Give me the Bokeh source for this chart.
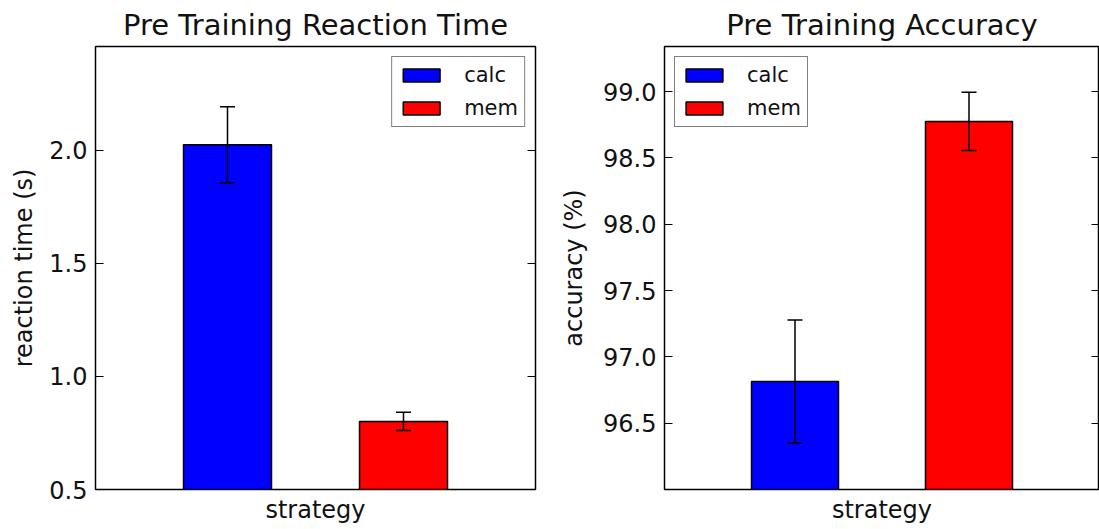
from bokeh.plotting import figure
from bokeh.layouts import row
from bokeh.models import (ColumnDataSource, Whisker, Range1d, FixedTicker, LinearAxis,
                          Legend, LegendItem, TeeHead, PrintfTickFormatter,
                          CustomJSTickFormatter)
from bokeh.embed import file_html
from bokeh.resources import INLINE

# ---- data ----
strategies = ["calc", "mem"]
bar_colors = ["#0000ff", "#ff0000"]
positions = [0.3, 0.7]

rt_mean = [2.024, 0.801]
rt_err = [0.168, 0.040]
rt_ticks = [0.5, 1.0, 1.5, 2.0]
rt_limits = (0.5, 2.458)

acc_mean = [96.814, 98.775]
acc_err = [0.464, 0.220]
acc_ticks = [96.5, 97.0, 97.5, 98.0, 98.5, 99.0]
acc_limits = (96.0, 99.34)

FONT = "DejaVu Sans"


def make_panel(title, ylabel, means, errs, limits, ticks, width, border_left,
               border_right, legend_loc, ylabel_standoff):
    src = ColumnDataSource(dict(
        x=positions, top=means, color=bar_colors, label=strategies,
        upper=[m + e for m, e in zip(means, errs)],
        lower=[m - e for m, e in zip(means, errs)],
    ))
    p = figure(width=width, height=529, x_range=Range1d(0, 1),
               y_range=Range1d(*limits), output_backend="svg",
               toolbar_location=None, min_border_left=border_left,
               min_border_right=border_right, min_border_top=44,
               min_border_bottom=40, title=title)
    p.background_fill_color = "white"
    p.border_fill_color = "white"
    p.outline_line_color = "black"
    p.outline_line_width = 1.5
    p.xgrid.visible = False
    p.ygrid.visible = False

    p.title.text_font = FONT
    p.title.text_font_size = "29px"
    p.title.text_font_style = "normal"
    p.title.text_color = "#111111"
    p.title.align = "center"

    r = p.vbar(x="x", top="top", bottom=limits[0], width=0.2, source=src,
               fill_color="color", line_color="black", line_width=1.5)

    w = Whisker(base="x", upper="upper", lower="lower", source=src,
                line_color="black", line_width=1.5,
                upper_head=TeeHead(size=15, line_color="black", line_width=1.5),
                lower_head=TeeHead(size=15, line_color="black", line_width=1.5))
    w.level = "overlay"
    p.add_layout(w)

    # x axis: only label
    xa = p.xaxis[0]
    xa.ticker = FixedTicker(ticks=[])
    xa.major_tick_in = 0
    xa.major_tick_out = 0
    xa.minor_tick_line_color = None
    xa.axis_line_color = None
    xa.axis_label = "strategy"
    xa.axis_label_text_font = FONT
    xa.axis_label_text_font_size = "24px"
    xa.axis_label_text_font_style = "normal"
    xa.axis_label_text_color = "#111111"
    xa.axis_label_standoff = 6

    ya = p.yaxis[0]
    ya.ticker = FixedTicker(ticks=ticks)
    ya.formatter = PrintfTickFormatter(format="%.1f")
    ya.major_tick_in = 8
    ya.major_tick_out = 0
    ya.minor_tick_line_color = None
    ya.axis_line_color = None
    ya.major_label_text_font = FONT
    ya.major_label_text_font_size = "24px"
    ya.major_label_text_color = "#111111"
    ya.major_label_standoff = 8
    ya.axis_label = ylabel
    ya.axis_label_text_font = FONT
    ya.axis_label_text_font_size = "24px"
    ya.axis_label_text_font_style = "normal"
    ya.axis_label_text_color = "#111111"
    ya.axis_label_standoff = ylabel_standoff

    # right spine ticks (inward, no labels)
    ra = LinearAxis(ticker=FixedTicker(ticks=ticks),
                    formatter=CustomJSTickFormatter(code="return ''"))
    ra.major_tick_in = 8
    ra.major_tick_out = 0
    ra.minor_tick_line_color = None
    ra.axis_line_color = None
    ra.major_label_text_font_size = "10px"
    ra.major_label_standoff = 0
    p.add_layout(ra, "right")

    legend = Legend(items=[LegendItem(label=strategies[0], renderers=[r], index=0),
                           LegendItem(label=strategies[1], renderers=[r], index=1)],
                    location=legend_loc)
    legend.border_line_color = "black"
    legend.border_line_width = 1.5
    legend.background_fill_color = "white"
    legend.background_fill_alpha = 1.0
    legend.padding = 6
    legend.margin = 10
    legend.spacing = 9
    legend.glyph_width = 46
    legend.glyph_height = 16
    legend.label_height = 20
    legend.label_standoff = 20
    legend.label_text_font = FONT
    legend.label_text_font_size = "21px"
    legend.label_text_color = "#111111"
    p.add_layout(legend)
    return p


left = make_panel("Pre Training Reaction Time", "reaction time (s)", rt_mean, rt_err,
                  rt_limits, rt_ticks, width=545, border_left=95, border_right=10,
                  legend_loc="top_right", ylabel_standoff=8)
right = make_panel("Pre Training Accuracy", "accuracy (%)", acc_mean, acc_err,
                   acc_limits, acc_ticks, width=554, border_left=119, border_right=0,
                   legend_loc="top_left", ylabel_standoff=12)

layout = row(left, right)
open("out.html", "w").write(file_html(layout, INLINE))
